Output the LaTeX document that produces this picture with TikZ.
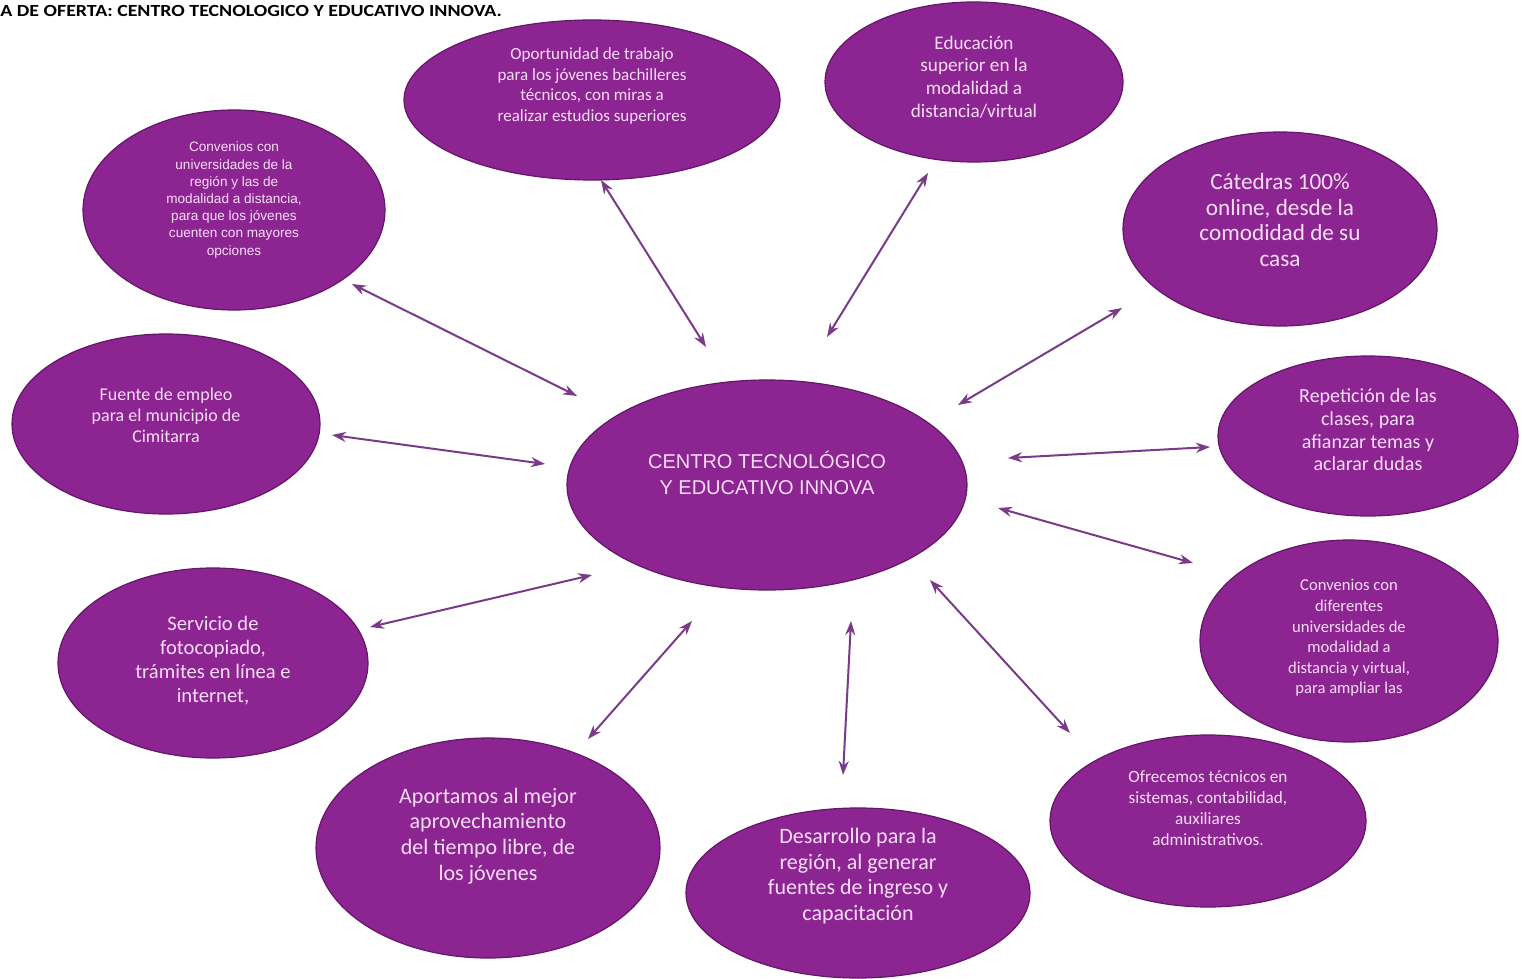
\documentclass[tikz,border=0pt]{standalone}
\usepackage{fontspec}
\setmainfont{Carlito}
\newfontfamily\arialish{Liberation Sans}
\usetikzlibrary{shapes.geometric,arrows.meta}
\definecolor{bubblefill}{RGB}{140,36,145}
\definecolor{bubbleedge}{RGB}{100,22,105}
\definecolor{bubbletext}{RGB}{248,222,248}
\definecolor{linkcol}{RGB}{122,58,138}
\tikzset{
  bubble/.style 2 args={ellipse, fill=bubblefill, draw=bubbleedge, line width=0.6pt,
    minimum width=#1*0.5pt, minimum height=#2*0.5pt, inner sep=0pt},
  txt/.style={text=bubbletext, align=center, inner sep=0pt},
  fs/.style 2 args={font=\fontsize{#1}{#2}\selectfont},
  afs/.style 2 args={font=\arialish\fontsize{#1}{#2}\selectfont},
  conn/.style={draw=linkcol, line width=1pt,
    {Stealth[length=7pt,width=5pt]}-{Stealth[length=7pt,width=5pt]}},
}
\begin{document}
\begin{tikzpicture}[x=0.5pt, y=-0.5pt]
\useasboundingbox (0,0) rectangle (1522,979);

% heading
\node[anchor=west, inner sep=0pt, font=\bfseries\fontsize{8.5}{10}\selectfont] (title) at (0,11)
  {\scalebox{1.17}[1]{A DE OFERTA: CENTRO TECNOLOGICO Y EDUCATIVO INNOVA.}};

% central bubble
\node[bubble={400}{210}, label={[txt,afs={10}{13},yshift=6pt]center:{CENTRO TECNOLÓGICO\\Y EDUCATIVO INNOVA}}] (cen) at (767,485) {};

% surrounding bubbles
\node[bubble={302}{200}, label={[txt,afs={6.8}{8.6},yshift=5pt]center:{Convenios con\\universidades de la\\región y las de\\modalidad a distancia,\\para que los jóvenes\\cuenten con mayores\\opciones}}] (convreg) at (234,210) {};
\node[bubble={376}{160}, label={[txt,fs={8.5}{10.3},yshift=7pt]center:{Oportunidad de trabajo\\para los jóvenes bachilleres\\técnicos, con miras a\\realizar estudios superiores}}] (oport) at (592,100) {};
\node[bubble={298}{160}, label={[txt,fs={9.6}{11.3},yshift=2.5pt]center:{Educación\\superior en la\\modalidad a\\distancia/virtual}}] (educ) at (974,82) {};
\node[bubble={314}{194}, label={[txt,fs={11.6}{12.8},yshift=4.5pt]center:{Cátedras 100\%\\online, desde la\\comodidad de su\\casa}}] (cated) at (1280,229) {};
\node[bubble={308}{180}, label={[txt,fs={9}{10.5},yshift=4.5pt]center:{Fuente de empleo\\para el municipio de\\Cimitarra}}] (fuente) at (166,424) {};
\node[bubble={300}{160}, label={[txt,fs={10}{11.3},yshift=3pt]center:{Repetición de las\\clases, para\\afianzar temas y\\aclarar dudas}}] (repet) at (1368,436) {};
\node[bubble={310}{190}, label={[txt,fs={10.3}{12},yshift=1pt]center:{Servicio de\\fotocopiado,\\trámites en línea e\\internet,}}] (servi) at (213,663) {};
\node[bubble={298}{202}, label={[txt,fs={8.3}{10.3},yshift=1.5pt]center:{Convenios con\\diferentes\\universidades de\\modalidad a\\distancia y virtual,\\para ampliar las}}] (convdif) at (1349,641) {};
\node[bubble={344}{220}, label={[txt,fs={11}{12.8},yshift=6pt]center:{Aportamos al mejor\\aprovechamiento\\del tiempo libre, de\\los jóvenes}}] (aport) at (488,848) {};
\node[bubble={344}{170}, label={[txt,fs={11}{12.8},yshift=8.5pt]center:{Desarrollo para la\\región, al generar\\fuentes de ingreso y\\capacitación}}] (desarr) at (858,893) {};
\node[bubble={316}{172}, label={[txt,fs={8.6}{10.5},yshift=6.5pt]center:{Ofrecemos técnicos en\\sistemas, contabilidad,\\auxiliares\\administrativos.}}] (ofrec) at (1208,821) {};

% two-way links to the centre
\draw[conn] ([shift={(118,74)}]convreg.center) -- ([shift={(-190,-89)}]cen.center);
\draw[conn] ([shift={(9,80)}]oport.center) -- ([shift={(-61,-138)}]cen.center);
\draw[conn] ([shift={(-46,91)}]educ.center) -- ([shift={(60,-148)}]cen.center);
\draw[conn] ([shift={(-158,79)}]cated.center) -- ([shift={(191,-80)}]cen.center);
\draw[conn] ([shift={(166,11)}]fuente.center) -- ([shift={(-222,-21)}]cen.center);
\draw[conn] ([shift={(-158,11)}]repet.center) -- ([shift={(241,-27)}]cen.center);
\draw[conn] ([shift={(-156,-78)}]convdif.center) -- ([shift={(231,23)}]cen.center);
\draw[conn] ([shift={(157,-36)}]servi.center) -- ([shift={(-175,90)}]cen.center);
\draw[conn] ([shift={(100,-109)}]aport.center) -- ([shift={(-75,136)}]cen.center);
\draw[conn] ([shift={(-15,-118)}]desarr.center) -- ([shift={(84,136)}]cen.center);
\draw[conn] ([shift={(-138,-88)}]ofrec.center) -- ([shift={(163,95)}]cen.center);
\end{tikzpicture}
\end{document}
